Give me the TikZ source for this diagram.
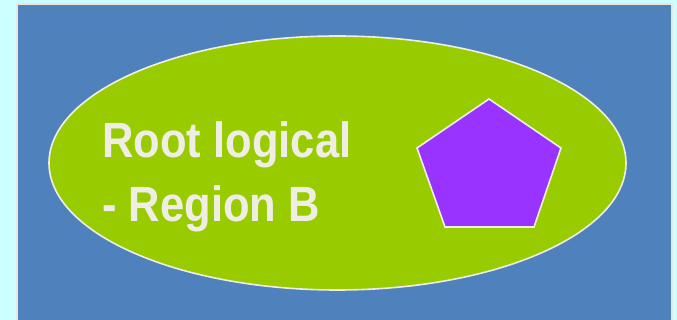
\documentclass[tikz,border=0pt]{standalone}
\usepackage{fontspec}
\setmainfont{Liberation Sans}
\definecolor{bgcyan}{RGB}{204,255,255}
\definecolor{panelblue}{RGB}{79,129,189}
\definecolor{panelrim}{RGB}{232,232,220}
\definecolor{lime}{RGB}{153,204,0}
\definecolor{violet}{RGB}{153,51,255}
\definecolor{offwhite}{RGB}{240,238,228}
\tikzset{
  panel/.style={fill=panelblue, draw=panelrim, line width=2pt},
  region/.style={fill=lime, draw=offwhite, line width=1.6pt},
  pent/.style={fill=violet, draw=offwhite, line width=1.6pt, line join=miter},
  label/.style={text=offwhite, font=\bfseries\fontsize{49.5}{64}\selectfont, inner sep=0pt, anchor=base west, xscale=0.88, transform shape}
}
\begin{document}
\begin{tikzpicture}[x=1pt,y=-1pt]
\useasboundingbox (0,0) rectangle (677,320);
\fill[bgcyan] (0,0) rectangle (677,320);
\draw[panel] (17,4) rectangle (672,330);
\draw[region] (337.5,163) ellipse [x radius=288.5, y radius=127];
\draw[pent] (489,99) -- (561,148) -- (534,227) -- (445,227) -- (417,148) -- cycle;
\node[label] (l1) at (102,157.5) {Root logical};
\node[label] (l2) at (102,221.5) {- Region B};
\end{tikzpicture}
\end{document}
